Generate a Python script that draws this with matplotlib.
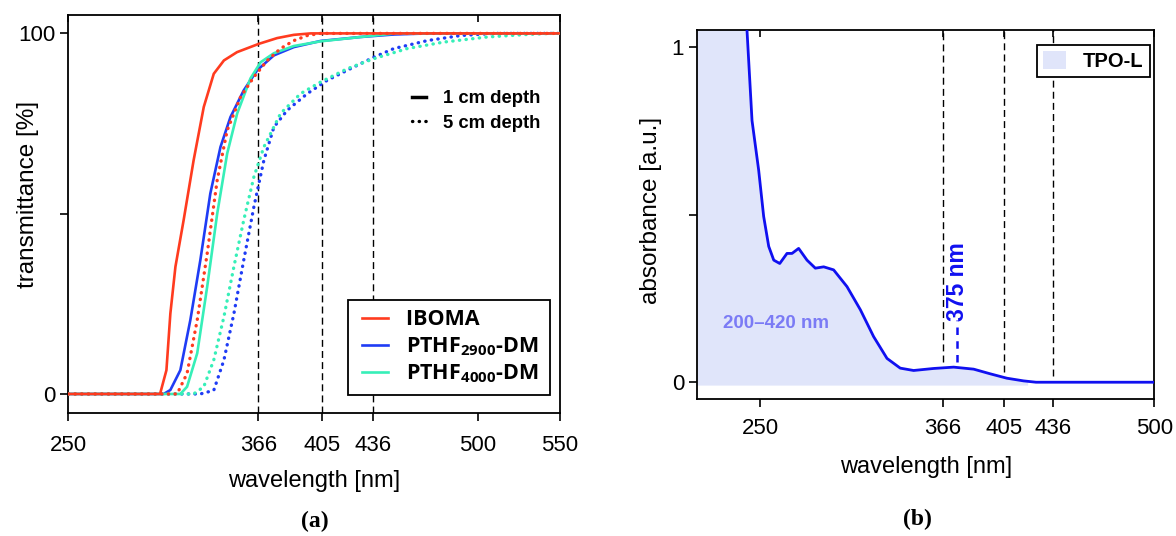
import numpy as np
import matplotlib
matplotlib.use("Agg")
import matplotlib.pyplot as plt
from matplotlib.lines import Line2D
from matplotlib.patches import Patch
from matplotlib.legend_handler import HandlerLine2D

plt.rcParams['font.family'] = ['Liberation Sans', 'DejaVu Sans']
plt.rcParams['mathtext.default'] = 'regular'

# (a) transmittance, 1 cm and 5 cm depth
ibo_1_nm = [250, 306, 309.9, 312.3, 315.4, 320.4, 326.5, 332.7, 338.8, 345, 353, 366.3, 377.5, 387.7, 398, 550]
ibo_1_t = [0, 0, 6.6, 22.3, 35.3, 48.2, 64.8, 79.6, 88.8, 92.5, 94.8, 97.1, 98.7, 99.6, 100, 100]
ibo_5_nm = [250, 316.4, 322.5, 328.7, 334.8, 340.9, 347, 355.2, 363.3, 371.5, 379.6, 387.7, 395.9, 404, 550]
ibo_5_t = [0, 0, 5.7, 20.5, 39, 59.3, 73.1, 82.4, 87.9, 92.5, 95.8, 98, 99.4, 100, 100]

p29_1_nm = [250, 308.2, 312.3, 318.4, 324.5, 330.6, 336.7, 342.9, 349, 357.1, 365.3, 375.5, 387.7, 404, 428.4, 448.8, 470, 550]
p29_1_t = [0, 0, 1.1, 6.6, 20.5, 37.1, 55.6, 68.5, 76.8, 84.2, 89.8, 93.9, 96.2, 97.9, 99.0, 99.7, 100, 100]
p29_5_nm = [250, 330.6, 338.8, 345, 351.1, 357.1, 363.3, 369.4, 375.5, 383.7, 395.9, 408.1, 424.4, 436.6, 448.8, 469.2, 489.5, 510, 550]
p29_5_t = [0, 0, 1, 9.4, 22.3, 37.1, 51.9, 64.8, 74, 78.7, 83.3, 87, 90.7, 93.4, 95.8, 98, 99.4, 100, 100]

p40_1_nm = [250, 318.4, 322.5, 328.7, 334.8, 340.9, 347, 353.1, 361.2, 367.4, 375.5, 387.7, 404, 428.4, 450, 550]
p40_1_t = [0, 0, 2, 11.3, 29.8, 50, 66.7, 77.8, 87.5, 92, 94.5, 96.5, 97.8, 99, 100, 100]
p40_5_nm = [250, 326.5, 332.7, 338.8, 345, 351.1, 357.1, 363.3, 369.4, 379.6, 391.8, 404, 420.3, 436.6, 457, 479.4, 505.8, 530, 545, 550]
p40_5_t = [0, 0, 2, 9.4, 21.4, 35.3, 48.2, 60.2, 68.5, 77.8, 83.3, 86.5, 90.2, 93, 95.8, 97.6, 99, 99.7, 100, 100]

names = ["IBOMA ", "PTHF$_{2900}$-DM ", "PTHF$_{4000}$-DM "]
colors = ["#ff3b1f", "#1f3cf5", "#36efb8"]
lamp_lines = [366, 405, 436]
xticks_a = [250, 366, 405, 436, 500, 550]

# (b) TPO-L absorbance
tpo_nm = [210, 220, 230, 238, 241.5, 244.7, 248.9, 252.1, 255.3, 258.5, 262.3, 266.9, 270.1, 274.3, 279.6,
          284.9, 290.2, 296.5, 305, 313.5, 321.9, 330.4, 338.8, 347.3, 360, 372.7, 385.4, 396, 406.5,
          417.1, 425, 500]
tpo_abs = [3.0, 2.2, 1.6, 1.2, 1.05, 0.78, 0.633, 0.494, 0.405, 0.364, 0.354, 0.384, 0.384, 0.399, 0.364,
           0.340, 0.344, 0.335, 0.285, 0.216, 0.136, 0.071, 0.042, 0.035, 0.041, 0.045, 0.039, 0.025, 0.012,
           0.004, 0.0, 0.0]
band = (200, 420)
peak_nm = 375
xticks_b = [250, 366, 405, 436, 500]

fig = plt.figure(figsize=(11.76, 5.36), dpi=100)
ax1 = fig.add_axes([0.0581, 0.230, 0.4178, 0.742])
ax2 = fig.add_axes([0.593, 0.2556, 0.3884, 0.6884])

lw = 1.9
dot = (0.1, 1.9)
for x in lamp_lines:
    ax1.axvline(x, color="black", lw=1.0, dashes=(5, 3), zorder=1)

curves = [(ibo_1_nm, ibo_1_t, ibo_5_nm, ibo_5_t),
          (p29_1_nm, p29_1_t, p29_5_nm, p29_5_t),
          (p40_1_nm, p40_1_t, p40_5_nm, p40_5_t)]
handles = []
for i, ((x1, y1, x5, y5), c, name) in enumerate(zip(curves, colors, names)):
    z = 4 if i == 0 else 3
    h, = ax1.plot(x1, y1, color=c, lw=lw, label=name, zorder=z)
    ax1.plot(x5, y5, color=c, lw=2.4, dashes=dot, dash_capstyle="round", zorder=z)
    handles.append(h)

ax1.set_xlim(250, 550)
ax1.set_ylim(-5.2, 105.1)
ax1.set_xticks(xticks_a)
ax1.set_yticks([0, 50, 100])
ax1.set_yticklabels(["0", "", "100"])
ax1.set_xlabel("wavelength [nm]", fontsize=17, labelpad=10)
ax1.set_ylabel("transmittance [%]", fontsize=17.5)
ax1.yaxis.set_label_coords(-0.060, 0.55)

fs_leg = 15.5
leg1 = ax1.legend(handles=handles, loc="lower right", bbox_to_anchor=(0.98, 0.045), borderaxespad=0,
                  prop={"family": "Open Sans", "weight": "bold", "size": fs_leg}, handlelength=1.45,
                  handletextpad=0.8, labelspacing=0.22, borderpad=0.45, fancybox=False,
                  edgecolor="black", framealpha=1,
                  handler_map={Line2D: HandlerLine2D(xpad=0.22)})
leg1.get_frame().set_linewidth(1.3)
leg1.set_zorder(5)
ax1.add_artist(leg1)

depth = [Line2D([], [], color="black", lw=2.5),
         Line2D([], [], color="black", lw=2.4, dashes=(0.1, 1.9), dash_capstyle="round")]
ax1.legend(handles=depth, labels=["1 cm depth", "5 cm depth"], loc="upper left", bbox_to_anchor=(0.684, 0.83),
           frameon=False, prop={"weight": "bold", "size": 13.3}, handlelength=0.75, handletextpad=0.95,
           labelspacing=0.42, borderaxespad=0)

# panel b
x = np.array(tpo_nm)
y = np.array(tpo_abs)
blue = "#1010f0"
m = (x >= band[0]) & (x <= band[1])
xf = np.append(x[m], band[1])
yf = np.append(y[m], np.interp(band[1], x, y))
ax2.fill_between(xf, -0.01, yf, color="#e0e5fa", lw=0, zorder=0)
ax2.plot(x, y, color=blue, lw=2.0, zorder=3)
for xv in lamp_lines:
    ax2.vlines(xv, np.interp(xv, x, y) + 0.018, 1.05, color="black", lw=1.0, linestyles=(0, (5, 3)), zorder=1)
ax2.vlines(peak_nm, np.interp(peak_nm, x, y) + 0.017, 0.185, color=blue, lw=1.8, linestyles=(0, (3, 2.5)), zorder=2)
ax2.text(peak_nm, 0.30, "375 nm", rotation=90, ha="center", va="center", color=blue,
         fontsize=16.5, fontweight="bold")
ax2.text(260, 0.176, "200\u2013420 nm", ha="center", va="center", color="#7b7bf5",
         fontsize=13.5, fontweight="bold")

ax2.set_xlim(210, 500)
ax2.set_ylim(-0.05, 1.05)
ax2.set_xticks(xticks_b)
ax2.set_yticks([0, 0.5, 1])
ax2.set_yticklabels(["0", "", "1"])
ax2.set_xlabel("wavelength [nm]", fontsize=17, labelpad=12)
ax2.set_ylabel("absorbance [a.u.]", fontsize=17.5)
ax2.yaxis.set_label_coords(-0.077, 0.51)
leg2 = ax2.legend(handles=[Patch(facecolor="#e0e5fa", edgecolor="none")], labels=["TPO-L"],
                  loc="upper right", bbox_to_anchor=(0.99, 0.96), borderaxespad=0,
                  prop={"weight": "bold", "size": 14.5}, handlelength=1.15, handleheight=1.05,
                  handletextpad=0.83, borderpad=0.3, fancybox=False, edgecolor="black", framealpha=1)
leg2.get_frame().set_linewidth(1.3)
leg2.set_zorder(5)

for ax, pad in ((ax1, 10), (ax2, 8)):
    for s in ax.spines.values():
        s.set_linewidth(1.3)
    ax.tick_params(axis="both", direction="out", length=6, width=1.2, labelsize=16)
    ax.tick_params(axis="x", pad=pad)
    top = ax.secondary_xaxis("top")
    top.set_xticks(ax.get_xticks())
    top.tick_params(direction="in", length=5, width=1.2, labeltop=False)
    top.spines["top"].set_visible(False)

fig.text(0.268, 0.008, "(a)", ha="center", va="bottom", family="Liberation Serif", fontsize=17, fontweight="bold")
fig.text(0.780, 0.012, "(b)", ha="center", va="bottom", family="Liberation Serif", fontsize=17, fontweight="bold")

fig.savefig("out.png", dpi=100)
